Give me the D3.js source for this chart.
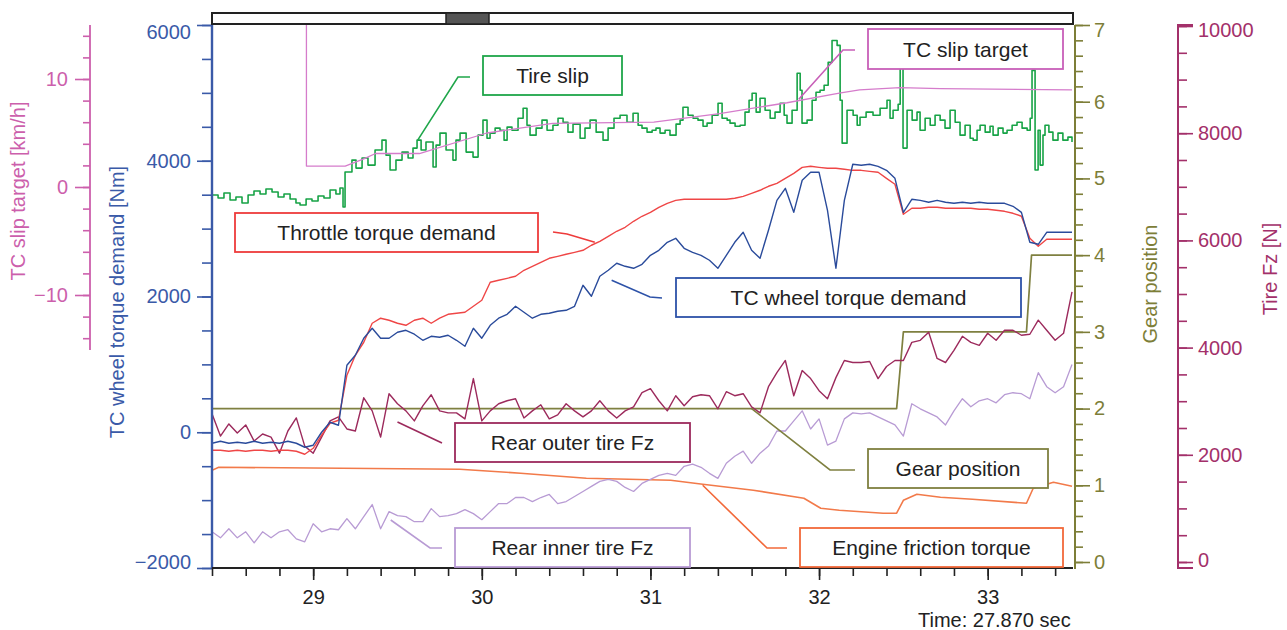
<!DOCTYPE html>
<html>
<head>
<meta charset="utf-8">
<script src="https://cdn.jsdelivr.net/npm/d3@7"></script>
<style>
  body { margin: 0; background: #fff; }
  svg { font-family: "Liberation Sans", Arial, sans-serif; }
</style>
</head>
<body>
<div id="chart"></div>
<script>
// Samples on a 0.05 s grid starting at 28.40 s
const t0 = 28.4, dt = 0.05;

// Tire slip [km/h] as [time, value] (denser, read peak to peak)
const tireSlip = [[28.400,-0.74],[28.436,-1.02],[28.471,-0.55],[28.507,-1.20],[28.542,-0.92],[28.578,-1.48],
  [28.614,-0.74],[28.649,-0.37],[28.685,-0.65],[28.720,-0.18],[28.756,-0.46],[28.792,-0.92],[28.827,-0.65],
  [28.863,-1.11],[28.898,-1.48],[28.922,-1.66],[28.958,-1.11],[28.993,-1.29],[29.029,-0.83],[29.064,-1.02],
  [29.100,-0.28],[29.135,-0.65],[29.159,-0.09],[29.177,-1.85],[29.189,1.39],[29.230,2.49],[29.254,1.75],
  [29.290,2.68],[29.325,2.03],[29.367,3.42],[29.408,4.34],[29.432,2.95],[29.456,1.57],[29.491,2.49],
  [29.527,3.23],[29.563,2.68],[29.592,3.60],[29.616,4.34],[29.640,3.42],[29.669,4.16],[29.711,1.85],
  [29.729,3.88],[29.752,4.99],[29.788,3.42],[29.829,2.49],[29.847,4.34],[29.871,4.99],[29.907,3.23],
  [29.948,2.77],[29.978,4.80],[30.007,6.19],[30.031,4.52],[30.049,4.99],[30.079,5.45],[30.108,5.26],
  [30.132,4.34],[30.150,5.54],[30.179,5.26],[30.215,6.37],[30.245,7.29],[30.268,5.72],[30.286,4.80],
  [30.322,5.45],[30.357,6.19],[30.387,5.26],[30.422,5.72],[30.452,6.37],[30.482,6.00],[30.511,5.08],
  [30.541,5.82],[30.583,4.52],[30.612,5.45],[30.642,6.19],[30.678,5.08],[30.719,4.34],[30.749,5.45],
  [30.784,6.37],[30.820,6.65],[30.861,6.00],[30.897,6.83],[30.927,5.72],[30.950,5.45],[30.980,5.08],
  [31.010,5.26],[31.033,5.45],[31.057,4.99],[31.087,5.26],[31.116,4.80],[31.152,5.82],[31.176,6.19],
  [31.193,7.39],[31.223,6.65],[31.253,6.37],[31.282,6.19],[31.312,5.63],[31.336,5.91],[31.366,6.65],
  [31.401,7.76],[31.425,6.37],[31.455,6.19],[31.472,5.91],[31.502,5.63],[31.532,5.72],[31.561,6.93],
  [31.585,8.03],[31.603,8.68],[31.627,6.93],[31.650,8.22],[31.680,7.11],[31.710,6.37],[31.739,6.93],
  [31.769,7.76],[31.793,6.65],[31.810,5.91],[31.840,7.11],[31.870,10.53],[31.888,8.96],[31.899,5.91],
  [31.929,6.19],[31.959,8.03],[31.982,8.77],[32.006,8.96],[32.030,9.42],[32.054,11.54],[32.077,13.57],
  [32.107,13.11],[32.125,8.03],[32.137,4.06],[32.166,7.11],[32.202,6.65],[32.226,5.72],[32.243,6.46],
  [32.279,6.93],[32.320,6.65],[32.362,7.29],[32.403,8.03],[32.421,6.37],[32.439,7.11],[32.469,7.66],
  [32.481,10.99],[32.498,3.60],[32.522,7.11],[32.552,6.19],[32.581,6.93],[32.599,5.26],[32.629,6.37],
  [32.659,5.72],[32.688,6.65],[32.718,6.19],[32.747,5.45],[32.777,7.11],[32.807,6.00],[32.836,4.80],
  [32.866,5.72],[32.896,4.52],[32.914,4.34],[32.937,5.26],[32.955,5.72],[32.985,5.08],[33.014,5.63],
  [33.032,4.80],[33.062,5.45],[33.091,4.99],[33.115,5.26],[33.145,5.72],[33.174,6.00],[33.204,5.45],
  [33.234,5.26],[33.252,6.37],[33.263,10.80],[33.281,1.57],[33.299,5.26],[33.311,2.03],[33.328,4.80],
  [33.340,5.72],[33.363,5.08],[33.387,4.34],[33.417,4.99],[33.446,4.34],[33.476,4.62],[33.500,4.16]];

// Throttle torque demand [Nm]
const throttleTorque = [-265,-265,-280,-265,-280,-265,-265,-280,-265,-265,-280,-324,
  -236,-44,133,177,
  840,1134,1326,1606,1680,1650,1606,1576,1650,1680,1606,1680,1738,1753,1768,1856,
  1944,2210,2239,2268,2298,2386,2445,2504,2563,2592,2622,2651,2681,2755,2813,2887,
  2961,3020,3108,3182,3240,3314,3373,3417,3432,3432,3432,3432,3432,3432,3447,3476,
  3520,3565,3624,3668,3741,3815,3903,3918,3903,3889,3889,3874,3859,3859,3844,3830,
  3741,3653,3211,3300,3300,3314,3314,3300,3300,3300,3300,3285,3285,3270,3255,3226,
  3182,2858,2740,2843,2843,2843,2843];

// TC wheel torque demand [Nm]
const wheelTorque = [-162,-133,-162,-147,-162,-133,-162,-147,-162,-133,-162,-221,-191,0,147,103,
  987,1134,1385,1532,1385,1385,1473,1502,1444,1355,1414,1400,1429,1355,1267,1532,
  1385,1576,1680,1738,1856,1768,1680,1738,1753,1782,1797,1856,2165,2004,2298,2386,
  2490,2445,2416,2475,2607,2681,2799,2858,2710,2651,2607,2534,2416,2607,2799,2946,
  2681,2563,2975,3417,3594,3240,3712,3830,3830,3270,2416,3417,3948,3933,3948,3918,
  3859,3741,3240,3432,3417,3388,3417,3388,3373,3388,3373,3388,3373,3373,3373,3329,
  3240,2799,2769,2946,2946,2946,2946];

// Rear outer tire Fz [N]
const rearOuterFz = [2764,2350,2576,2406,2557,2256,2388,2331,2030,2444,2688,2162,2030,2331,2632,2707,
  2482,2444,3064,2820,2331,3140,2952,2820,2632,2914,3121,2820,2782,2782,2670,3422,
  2632,2820,2952,3008,3046,2688,2820,2933,2670,2745,2952,2820,2707,2820,3008,2820,
  2688,2820,2895,3158,3234,3008,2820,3102,2914,3083,3121,3102,2858,3177,3102,3140,
  2895,2782,3271,3534,3760,3102,3572,3422,3196,3046,3440,3760,3722,3722,3741,3422,
  3647,3760,3760,4098,4136,4286,3798,3722,3948,4211,4098,4042,4268,4136,4324,4324,
  4230,4249,4512,4324,4136,4268,5038];

// Rear inner tire Fz [N]
const rearInnerFz = [564,451,620,451,564,357,564,451,564,602,432,376,714,564,620,602,
  808,620,846,1072,620,940,865,846,752,752,996,846,865,902,978,902,
  790,940,1090,1090,1203,1203,1128,1203,1260,1090,1128,1222,1316,1410,1504,1542,
  1504,1391,1316,1466,1542,1617,1654,1617,1786,1824,1767,1654,1560,1842,1974,2068,
  1842,2030,2162,2444,2444,2632,2820,2482,2670,2181,2256,2670,2782,2764,2782,2707,
  2632,2557,2350,2952,2858,2782,2707,2557,2820,3046,2895,3008,3046,2970,3121,3158,
  3140,3046,3534,3271,3158,3271,3685];

// TC slip target [km/h] as [time, value] (off scale before 28.96 s)
const slipTarget = [[28.4,20],[28.96,20],[28.96,1.94],[29.19,1.94],[29.3,2.6],[29.37,3.1],[29.63,3.1],
  [30.03,5.0],[30.42,5.9],[31.02,6.0],[31.41,6.8],[31.81,7.8],[32.12,8.7],[32.24,9.0],
  [32.48,9.2],[32.72,9.1],[33.5,9.0]];

// Gear position as [time, gear]
const gearPos = [[28.4,2],[32.46,2],[32.5,3],[33.23,3],[33.26,4],[33.5,4]];

// Engine friction torque [Nm] as [time, value]
const frictionTorque = [[28.4,-560],[28.44,-516],[29.87,-545],[30.23,-604],[30.62,-678],[31.12,-707],
  [31.31,-766],[31.61,-854],[31.91,-972],[32.01,-1120],[32.12,-1149],[32.38,-1193],[32.46,-1193],
  [32.5,-1002],[32.58,-913],[32.72,-957],[32.91,-987],[33.23,-1046],[33.27,-825],[33.39,-737],[33.5,-795]];

const timeTicks = [29, 30, 31, 32, 33];

const col = {
  slipAxis: "#cc5fac", nmAxis: "#3a5aa8", gearAxis: "#7d7e38", fzAxis: "#a3306a",
  green: "#17a346", target: "#d57ccb", red: "#ef4646", blue: "#2a4b9b",
  outer: "#9c2a5c", inner: "#b89bd4", orange: "#f27a4a", gear: "#7f8040"
};

const svg = d3.select("#chart").append("svg")
  .attr("width", 1287).attr("height", 630);

const x = d3.scaleLinear().domain([28.4, 33.5]).range([212, 1072]);
const yNm = d3.scaleLinear().domain([-2000, 6000]).range([568, 25]);
const ySlip = d3.scaleLinear().domain([-15, 15]).range([349, 25]);
const yGear = d3.scaleLinear().domain([0, 7]).range([562, 25]);
const yFz = d3.scaleLinear().domain([0, 10000]).range([562, 26]);

const tAt = i => t0 + i * dt;

// clip for the data
svg.append("clipPath").attr("id", "plotclip")
  .append("rect").attr("x", 212).attr("y", 25).attr("width", 861).attr("height", 543);

const plot = svg.append("g").attr("clip-path", "url(#plotclip)");

function addLine(data, xf, yf, color, width, curve) {
  plot.append("path")
    .datum(data)
    .attr("fill", "none")
    .attr("stroke", color)
    .attr("stroke-width", width)
    .attr("stroke-linejoin", "round")
    .attr("d", d3.line().x(xf).y(yf).curve(curve || d3.curveLinear));
}

addLine(frictionTorque, d => x(d[0]), d => yNm(d[1]), col.orange, 1.6);
addLine(rearInnerFz, (d, i) => x(tAt(i)), d => yFz(d), col.inner, 1.3);
addLine(gearPos, d => x(d[0]), d => yGear(d[1]), col.gear, 1.7);
addLine(rearOuterFz, (d, i) => x(tAt(i)), d => yFz(d), col.outer, 1.4);
addLine(throttleTorque, (d, i) => x(tAt(i)), d => yNm(d), col.red, 1.4);
addLine(wheelTorque, (d, i) => x(tAt(i)), d => yNm(d), col.blue, 1.4);
addLine(tireSlip, d => x(d[0]), d => ySlip(d[1]), col.green, 1.6, d3.curveStepAfter);
addLine(slipTarget, d => x(d[0]), d => ySlip(d[1]), col.target, 1.3);

// axes
function styleAxis(g, color) {
  g.select(".domain").remove();
  g.selectAll("line").attr("stroke", color).attr("stroke-width", 1.6);
  g.selectAll("text").attr("fill", color).style("font-size", "20px");
}

function rangeTicks(a, b, step) {
  const out = [];
  for (let v = a; v <= b + 1e-9; v += step) out.push(+v.toFixed(3));
  return out;
}

// TC wheel torque demand axis (left, blue)
const nmG = svg.append("g").attr("transform", "translate(212,0)");
nmG.append("g").call(d3.axisLeft(yNm).tickValues(rangeTicks(-2000, 6000, 500)).tickSize(10).tickFormat(""))
  .call(g => styleAxis(g, col.nmAxis));
nmG.append("g").call(d3.axisLeft(yNm).tickValues([-2000, 0, 2000, 4000, 6000]).tickSize(15).tickPadding(6).tickFormat(d3.format("d")))
  .call(g => styleAxis(g, col.nmAxis))
  .call(g => g.selectAll("text").attr("dy", d => d === 6000 ? "0.67em" : d === -2000 ? "0.02em" : "0.32em"));
nmG.append("line").attr("y1", 25).attr("y2", 569).attr("stroke", col.nmAxis).attr("stroke-width", 2.4);

// TC slip target axis (far left, pink)
const slG = svg.append("g").attr("transform", "translate(90,0)");
slG.append("g").call(d3.axisLeft(ySlip).tickValues(rangeTicks(-14, 14, 2)).tickSize(7).tickFormat(""))
  .call(g => styleAxis(g, col.slipAxis));
slG.append("g").call(d3.axisLeft(ySlip).tickValues([-10, 0, 10]).tickSize(15).tickPadding(7).tickFormat(d3.format("d")))
  .call(g => styleAxis(g, col.slipAxis));
slG.append("line").attr("y1", 25).attr("y2", 350).attr("stroke", col.slipAxis).attr("stroke-width", 1.8);

// Gear position axis (right, olive)
const gG = svg.append("g").attr("transform", "translate(1075,0)");
gG.append("g").call(d3.axisRight(yGear).tickValues(rangeTicks(0, 7, 0.2)).tickSize(8).tickFormat(""))
  .call(g => styleAxis(g, col.gearAxis));
gG.append("g").call(d3.axisRight(yGear).tickValues(d3.range(0, 8)).tickSize(15).tickPadding(4).tickFormat(d3.format("d")))
  .call(g => styleAxis(g, col.gearAxis))
  .call(g => g.selectAll("text").attr("dy", d => d === 7 ? "0.57em" : "0.32em"));
gG.append("line").attr("y1", 25).attr("y2", 569).attr("stroke", col.gearAxis).attr("stroke-width", 2);

// Tire Fz axis (far right, maroon)
const fG = svg.append("g").attr("transform", "translate(1178,0)");
fG.append("g").call(d3.axisRight(yFz).tickValues(rangeTicks(0, 10000, 500)).tickSize(9).tickFormat(""))
  .call(g => styleAxis(g, col.fzAxis));
fG.append("g").call(d3.axisRight(yFz).tickValues(rangeTicks(0, 10000, 2000)).tickSize(15).tickPadding(5).tickFormat(d3.format("d")))
  .call(g => styleAxis(g, col.fzAxis))
  .call(g => g.selectAll("text").attr("dy", d => d === 10000 ? "0.52em" : d === 0 ? "0.22em" : "0.32em"));
fG.append("path").attr("d", "M15,25H0V568H15").attr("fill", "none")
  .attr("stroke", col.fzAxis).attr("stroke-width", 2);

// Time axis (bottom, black)
const xG = svg.append("g").attr("transform", "translate(0,568)");
xG.append("g").call(d3.axisBottom(x).tickValues(rangeTicks(28.4, 33.4, 0.2)).tickSize(8).tickFormat(""))
  .call(g => styleAxis(g, "#222"));
xG.append("g").call(d3.axisBottom(x).tickValues(timeTicks).tickSize(12).tickPadding(10).tickFormat(d3.format("d")))
  .call(g => styleAxis(g, "#222"));
xG.append("line").attr("x1", 212).attr("x2", 1073).attr("stroke", "#222").attr("stroke-width", 2);

// scroll bar on top
svg.append("rect").attr("x", 212).attr("y", 13).attr("width", 861).attr("height", 11)
  .attr("fill", "#fff").attr("stroke", "#222").attr("stroke-width", 2);
svg.append("rect").attr("x", 446).attr("y", 13).attr("width", 43).attr("height", 11)
  .attr("fill", "#555").attr("stroke", "#222").attr("stroke-width", 1.5);

// axis titles
function vTitle(text, cx, cy, color) {
  svg.append("text").attr("transform", `translate(${cx},${cy}) rotate(-90)`)
    .attr("text-anchor", "middle").attr("dominant-baseline", "central")
    .attr("fill", color).style("font-size", "20px").text(text);
}
vTitle("TC slip target [km/h]", 18, 191, col.slipAxis);
vTitle("TC wheel torque demand [Nm]", 117, 302, col.nmAxis);
vTitle("Gear position", 1150, 284, col.gearAxis);
vTitle("Tire Fz [N]", 1270, 269, col.fzAxis);

svg.append("text").attr("x", 918).attr("y", 627).attr("fill", "#222")
  .style("font-size", "20px").text("Time: 27.870 sec");

// callouts: anchor on the series (time, value, scale), elbow and box in px
const callouts = [
  { label: "Tire slip", color: "#1fa64a", t: 29.62, v: 4.34, s: ySlip, pts: [[458, 77], [470, 77]], box: [483, 56, 139, 39] },
  { label: "TC slip target", color: "#c85fb8", t: 31.88, v: 8.13, s: ySlip, pts: [[843, 50], [855, 50]], box: [868, 29, 195, 40] },
  { label: "Throttle torque demand", color: "#ee3b3b", t: 30.67, v: 2799, s: yNm, pts: [[567, 234], [553, 232]], box: [235, 213, 303, 39] },
  { label: "TC wheel torque demand", color: "#2d52a8", t: 30.77, v: 2239, s: yNm, pts: [[650, 297], [662, 298]], box: [676, 278, 345, 39] },
  { label: "Rear outer tire Fz", color: "#9c2a5c", t: 29.5, v: 2612, s: yFz, pts: [[442, 443]], box: [455, 423, 235, 39] },
  { label: "Gear position", color: "#7f8040", t: 31.6, v: 2, s: yGear, pts: [[830, 470], [855, 470]], box: [868, 449, 180, 39] },
  { label: "Rear inner tire Fz", color: "#b89bd4", t: 29.46, v: 784, s: yFz, pts: [[430, 548], [442, 548]], box: [455, 528, 235, 39] },
  { label: "Engine friction torque", color: "#f2693a", t: 31.31, v: -781, s: yNm, pts: [[767, 548], [787, 548]], box: [800, 528, 263, 39] }
];

const cg = svg.append("g");
callouts.forEach(c => {
  const path = [[x(c.t), c.s(c.v)]].concat(c.pts);
  cg.append("path").attr("d", d3.line()(path)).attr("fill", "none")
    .attr("stroke", c.color).attr("stroke-width", 1.6);
  cg.append("rect").attr("x", c.box[0]).attr("y", c.box[1]).attr("width", c.box[2]).attr("height", c.box[3])
    .attr("fill", "#fff").attr("stroke", c.color).attr("stroke-width", 1.8);
  cg.append("text").attr("x", c.box[0] + c.box[2] / 2).attr("y", c.box[1] + c.box[3] / 2)
    .attr("text-anchor", "middle").attr("dominant-baseline", "central")
    .attr("fill", "#222").style("font-size", "21px").text(c.label);
});
</script>
</body>
</html>
